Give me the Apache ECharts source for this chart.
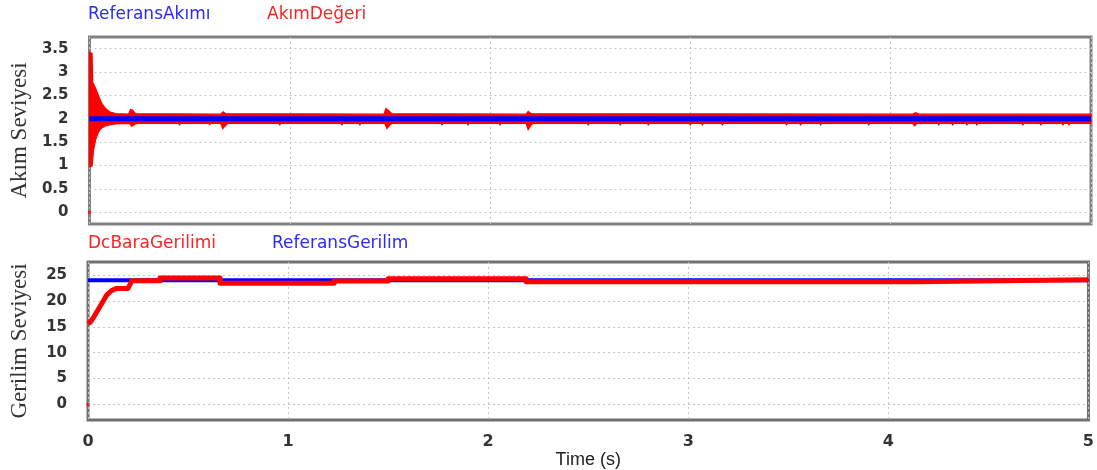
<!DOCTYPE html>
<html>
<head>
<meta charset="utf-8">
<script src="https://cdn.jsdelivr.net/npm/echarts@6/dist/echarts.min.js"></script>
<style>
html,body{margin:0;padding:0;background:#fff;}
#chart{width:1097px;height:470px;}
</style>
</head>
<body>
<div id="chart"></div>
<script>
// ---- data ----
var xTicks = [0, 1, 2, 3, 4, 5];
var currentTicks = [0, 0.5, 1, 1.5, 2, 2.5, 3, 3.5];
var voltageTicks = [0, 5, 10, 15, 20, 25];

// Referans akımı (constant reference)
var refCurrent = [[0, 2], [5, 2]];
// Akım değeri : upper / lower envelope of the noisy measured current
var currentUpper = [
  [0, 3.42], [0.013, 3.40], [0.016, 2.78], [0.03, 2.66], [0.045, 2.50], [0.06, 2.34],
  [0.08, 2.22], [0.10, 2.15], [0.13, 2.11], [0.195, 2.10], [0.205, 2.20], [0.215, 2.19],
  [0.23, 2.11], [0.655, 2.10], [0.668, 2.15], [0.68, 2.11], [1.47, 2.10], [1.48, 2.22],
  [1.495, 2.17], [1.51, 2.11], [2.18, 2.10], [2.19, 2.16], [2.205, 2.11], [4.11, 2.10],
  [4.125, 2.13], [4.14, 2.10], [5, 2.10]
];
var currentLower = [
  [0, 0.97], [0.013, 0.99], [0.02, 1.32], [0.03, 1.54], [0.045, 1.72], [0.06, 1.80],
  [0.08, 1.85], [0.10, 1.87], [0.13, 1.89], [0.20, 1.90], [0.21, 1.84], [0.225, 1.88],
  [0.24, 1.90], [0.445, 1.90], [0.45, 1.87], [0.455, 1.90], [0.595, 1.90], [0.60, 1.88],
  [0.605, 1.90], [0.655, 1.90], [0.665, 1.79], [0.68, 1.86], [0.69, 1.90], [0.945, 1.90],
  [0.95, 1.87], [0.955, 1.90], [1.255, 1.90], [1.26, 1.87], [1.265, 1.90], [1.345, 1.90],
  [1.35, 1.87], [1.355, 1.90], [1.475, 1.90], [1.485, 1.79], [1.50, 1.87], [1.51, 1.90],
  [1.755, 1.90], [1.76, 1.87], [1.765, 1.90], [1.885, 1.90], [1.89, 1.87], [1.895, 1.90],
  [2.045, 1.90], [2.05, 1.87], [2.055, 1.90], [2.18, 1.90], [2.19, 1.77], [2.205, 1.87],
  [2.215, 1.90], [2.485, 1.90], [2.49, 1.87], [2.495, 1.90], [2.645, 1.90], [2.65, 1.87],
  [2.655, 1.90], [2.785, 1.90], [2.79, 1.87], [2.795, 1.90], [2.995, 1.90], [3.0, 1.87],
  [3.005, 1.90], [3.055, 1.90], [3.06, 1.87], [3.065, 1.90], [3.155, 1.90], [3.16, 1.87],
  [3.165, 1.90], [3.475, 1.90], [3.48, 1.87], [3.485, 1.90], [3.545, 1.90], [3.55, 1.87],
  [3.555, 1.90], [3.645, 1.90], [3.65, 1.87], [3.655, 1.90], [3.885, 1.90], [3.89, 1.87],
  [3.895, 1.90], [4.11, 1.90], [4.12, 1.85], [4.13, 1.90], [4.235, 1.90], [4.24, 1.87],
  [4.245, 1.90], [4.305, 1.90], [4.31, 1.87], [4.315, 1.90], [4.375, 1.90], [4.38, 1.87],
  [4.385, 1.90], [4.425, 1.90], [4.43, 1.87], [4.435, 1.90], [4.655, 1.90], [4.66, 1.87],
  [4.665, 1.90], [4.745, 1.90], [4.75, 1.87], [4.755, 1.90], [4.855, 1.90], [4.86, 1.87],
  [4.865, 1.90], [4.885, 1.90], [4.89, 1.87], [4.895, 1.90], [5, 1.90]
];
var currentStart = [[0, 0]];

// DC bara gerilimi and reference voltage
var refVoltage = [[0, 24], [5, 24]];
var dcBusVoltage = [
  [0, 15.6], [0.012, 15.9], [0.026, 16.7], [0.06, 18.9], [0.093, 21.1], [0.118, 22.0],
  [0.143, 22.4], [0.20, 22.4], [0.22, 23.9], [0.36, 23.9], [0.36, 24.4], [0.66, 24.4],
  [0.66, 23.4], [1.23, 23.4], [1.23, 23.85], [1.50, 23.85], [1.50, 24.25], [2.19, 24.25],
  [2.19, 23.7], [4.13, 23.7], [4.13, 24.05], [5, 24.05]
];
var voltageStart = [[0, 0]];

// ---- chart ----
var RED = '#ff0000', BLUE = '#0000ff';
var gridLine = {show: true, lineStyle: {color: '#c4c4c4', type: [2, 3], width: 1}};
var tickFont = {fontFamily: 'DejaVu Sans', fontWeight: 'bold', fontSize: 15, color: '#333'};

var chart = echarts.init(document.getElementById('chart'), null, {renderer: 'canvas'});
chart.setOption({
  animation: false,
  backgroundColor: '#fff',
  grid: [
    {left: 88, right: 6, top: 37, height: 187, show: true, borderColor: '#808080', borderWidth: 3, backgroundColor: '#fff'},
    {left: 88, right: 6, top: 262, height: 158, show: true, borderColor: '#707070', borderWidth: 3, backgroundColor: '#fff'}
  ],
  xAxis: [
    {gridIndex: 0, type: 'value', min: 0, max: 5, interval: 1,
     axisLine: {show: false}, axisTick: {show: false}, axisLabel: {show: false}, splitLine: gridLine},
    {gridIndex: 1, type: 'value', min: 0, max: 5, interval: 1,
     axisLine: {show: false}, axisTick: {show: false},
     axisLabel: {show: true, margin: 14, fontFamily: 'DejaVu Sans', fontWeight: 'bold', fontSize: 16, color: '#333',
       customValues: xTicks},
     splitLine: gridLine,
     name: 'Time (s)', nameLocation: 'middle', nameGap: 24,
     nameTextStyle: {fontFamily: 'Liberation Sans', fontSize: 18, color: '#222'}}
  ],
  yAxis: [
    {gridIndex: 0, type: 'value', min: -0.25, max: 3.75,
     axisLine: {show: false},
     axisTick: {show: false, customValues: currentTicks},
     axisLabel: Object.assign({margin: 21, customValues: currentTicks}, tickFont),
     splitLine: gridLine,
     name: 'Akım Seviyesi', nameLocation: 'middle', nameRotate: 90, nameGap: 57,
     nameTextStyle: {fontFamily: 'Liberation Serif', fontSize: 23, color: '#333'}},
    {gridIndex: 1, type: 'value', min: -3, max: 27.5,
     axisLine: {show: false},
     axisTick: {show: false, customValues: voltageTicks},
     axisLabel: Object.assign({margin: 21, customValues: voltageTicks}, tickFont),
     splitLine: gridLine,
     name: 'Gerilim Seviyesi', nameLocation: 'middle', nameRotate: 90, nameGap: 57,
     nameTextStyle: {fontFamily: 'Liberation Serif', fontSize: 23, color: '#333'}}
  ],
  graphic: [
    {type: 'text', x: 88, y: 15, style: {text: 'ReferansAkımı', fill: '#2a2aff', font: '17px "DejaVu Sans"', textVerticalAlign: 'middle'}},
    {type: 'text', x: 267, y: 15, style: {text: 'AkımDeğeri', fill: '#ff2222', font: '17px "DejaVu Sans"', textVerticalAlign: 'middle'}},
    {type: 'text', x: 88, y: 244, style: {text: 'DcBaraGerilimi', fill: '#ff2222', font: '17px "DejaVu Sans"', textVerticalAlign: 'middle'}},
    {type: 'text', x: 272, y: 244, style: {text: 'ReferansGerilim', fill: '#2a2aff', font: '17px "DejaVu Sans"', textVerticalAlign: 'middle'}}
  ],
  series: [
    {name: 'AkımDeğeri', type: 'custom', xAxisIndex: 0, yAxisIndex: 0, z: 2,
     data: [[0, 2]],
     renderItem: function (params, api) {
       var pts = currentUpper.map(function (p) { return api.coord(p); });
       var low = currentLower.slice().reverse().map(function (p) { return api.coord(p); });
       return {type: 'polygon', shape: {points: pts.concat(low)},
               style: {fill: RED, stroke: RED, lineWidth: 1.2}};
     }},
    {name: 'AkımDeğeri0', type: 'scatter', xAxisIndex: 0, yAxisIndex: 0, data: currentStart,
     symbol: 'rect', symbolSize: 3, itemStyle: {color: RED}, z: 2},
    {name: 'ReferansAkımı', type: 'line', xAxisIndex: 0, yAxisIndex: 0, data: refCurrent,
     symbol: 'none', lineStyle: {color: BLUE, width: 5}, z: 3},
    {name: 'ReferansGerilim', type: 'line', xAxisIndex: 1, yAxisIndex: 1, data: refVoltage,
     symbol: 'none', lineStyle: {color: BLUE, width: 4}, z: 2},
    {name: 'DcBaraGerilimi', type: 'line', xAxisIndex: 1, yAxisIndex: 1, data: dcBusVoltage,
     symbol: 'none', lineStyle: {color: RED, width: 5, join: 'round'}, z: 3},
    {name: 'DcBaraGerilimi0', type: 'scatter', xAxisIndex: 1, yAxisIndex: 1, data: voltageStart,
     symbol: 'rect', symbolSize: 3, itemStyle: {color: RED}, z: 3}
  ]
});
</script>
</body>
</html>
